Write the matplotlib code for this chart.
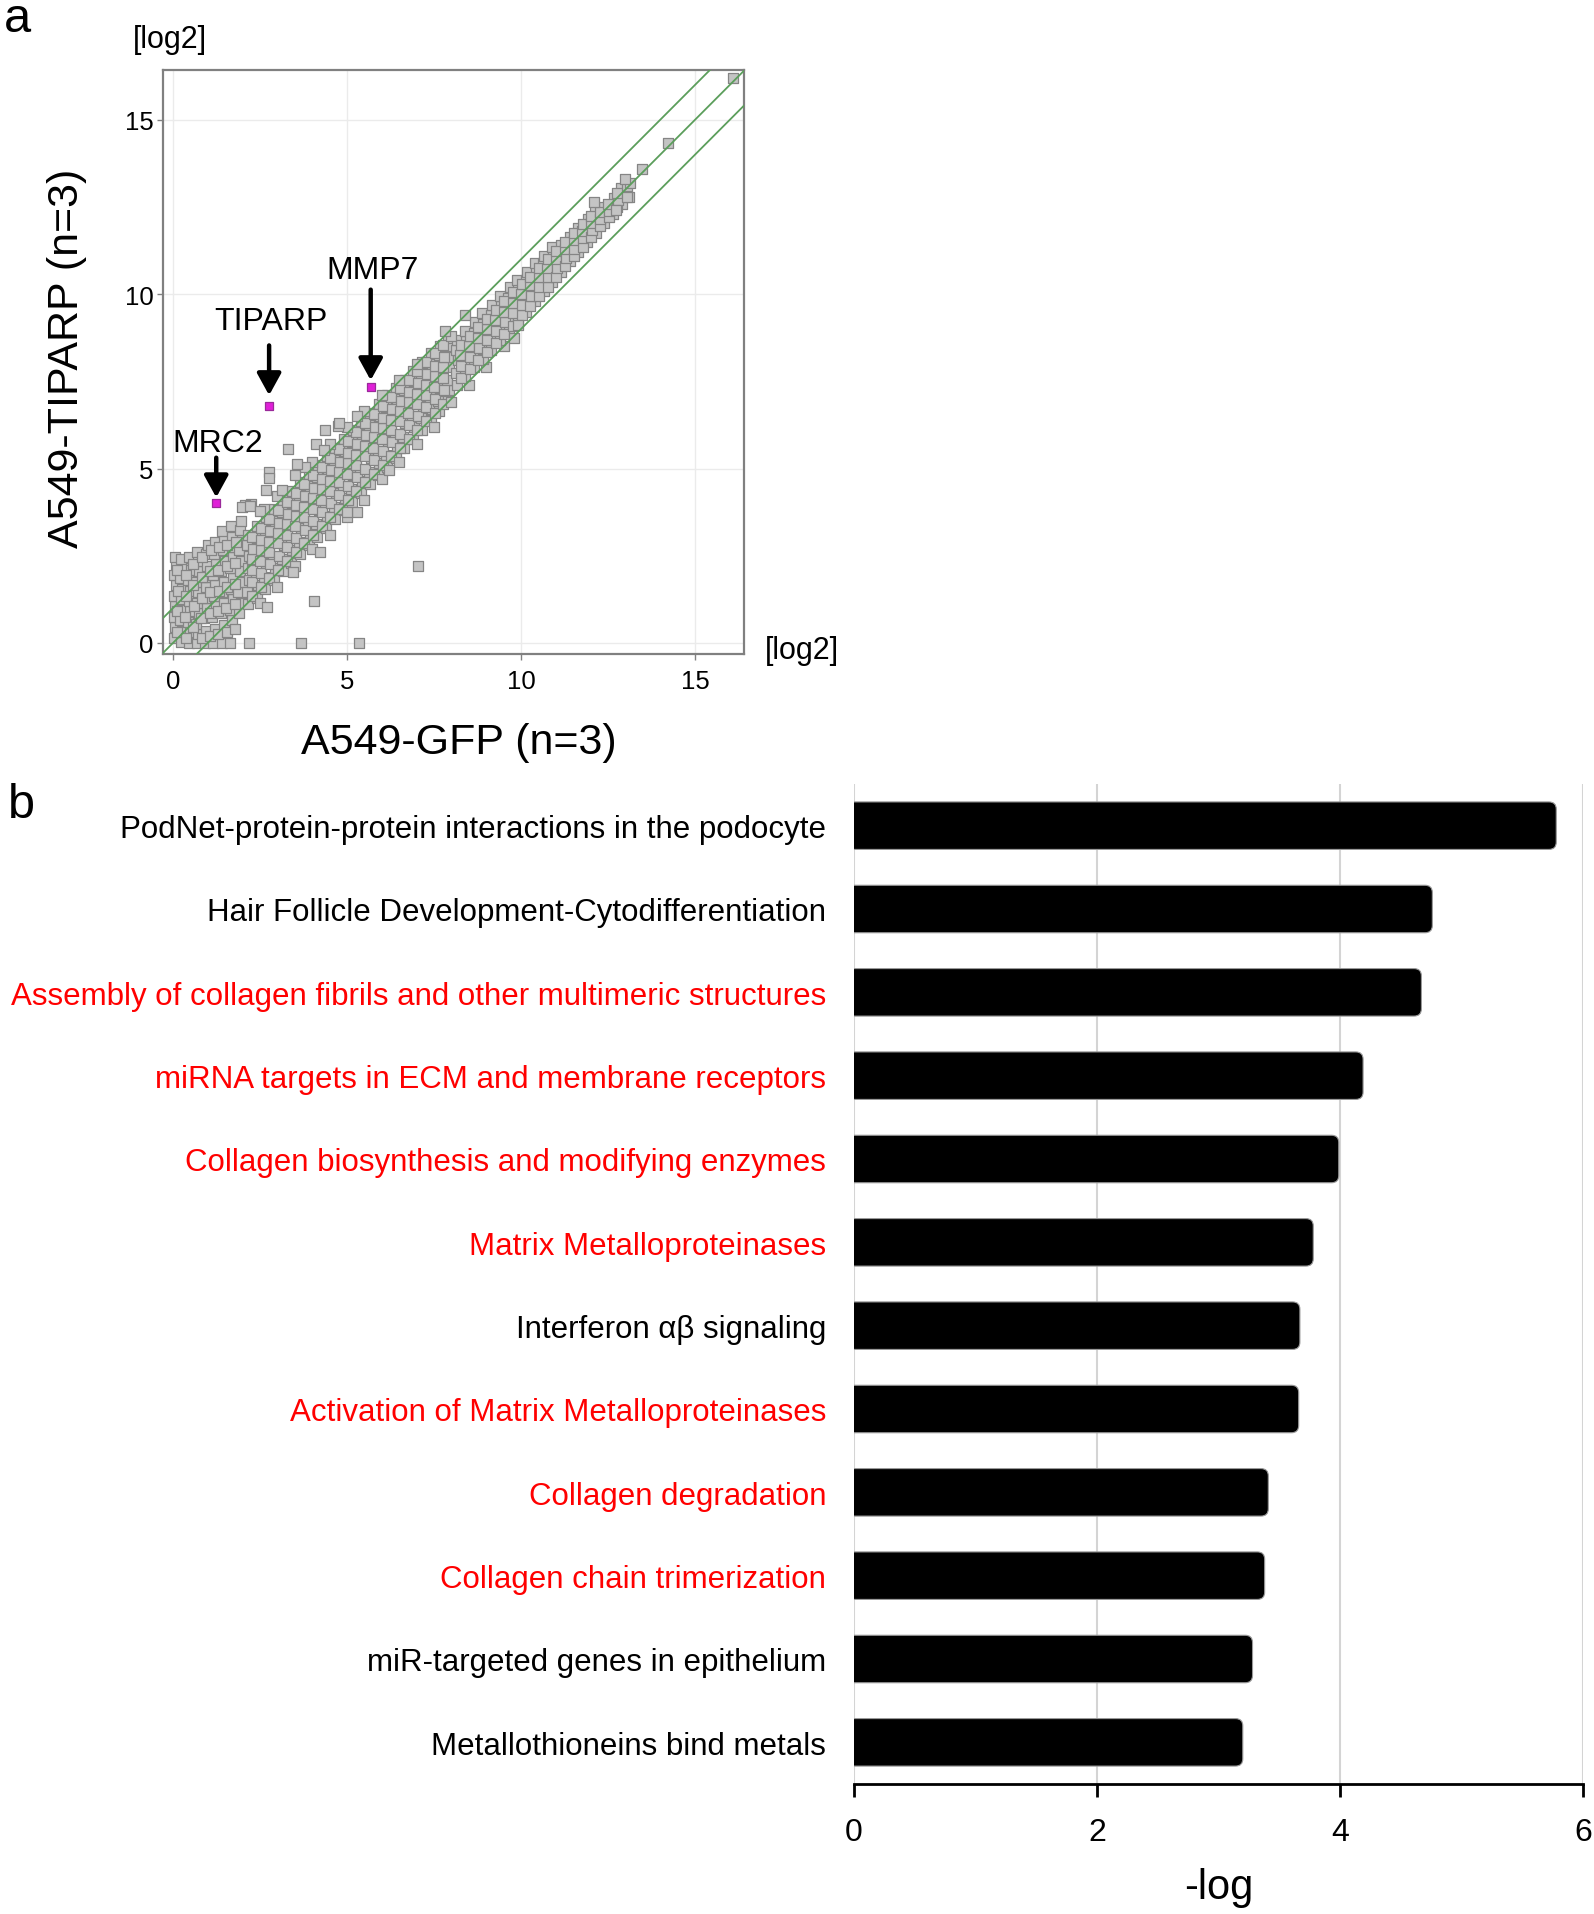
import matplotlib
matplotlib.use("Agg")
import matplotlib.pyplot as plt
from matplotlib.patches import FancyBboxPatch

plt.rcParams['font.family'] = ['Liberation Sans', 'DejaVu Sans']

# ---------------- Panel a data (log2 expression, GFP vs TIPARP) ----------------
low_expr_pts = [
    (0.02, 0.15), (0.05, 0.45), (0.03, 0.75), (0.06, 1.05), (0.04, 1.35), (0.07, 1.65), (0.03, 1.95), (0.08, 2.25), (0.05, 2.45),
    (0.22, 0.02), (0.25, 0.35), (0.20, 0.65), (0.27, 0.95), (0.23, 1.25), (0.26, 1.55), (0.21, 1.85), (0.28, 2.15), (0.24, 2.40),
    (0.45, 0.00), (0.48, 0.30), (0.43, 0.60), (0.50, 0.90), (0.46, 1.20), (0.49, 1.50), (0.44, 1.80), (0.51, 2.10), (0.47, 2.45),
    (0.68, 0.00), (0.72, 0.25), (0.66, 0.55), (0.74, 0.85), (0.70, 1.15), (0.73, 1.45), (0.67, 1.75), (0.75, 2.05), (0.71, 2.35), (0.69, 2.60),
    (0.92, 0.00), (0.95, 0.35), (0.90, 0.70), (0.97, 1.00), (0.93, 1.30), (0.96, 1.60), (0.91, 1.90), (0.98, 2.20), (0.94, 2.55), (1.00, 2.80),
    (1.15, 0.00), (1.20, 0.40), (1.13, 0.75), (1.22, 1.05), (1.17, 1.35), (1.21, 1.65), (1.14, 1.95), (1.23, 2.25), (1.18, 2.55), (1.20, 2.90),
    (1.40, 0.00), (1.45, 0.50), (1.38, 0.85), (1.47, 1.15), (1.42, 1.45), (1.46, 1.75), (1.39, 2.05), (1.48, 2.35), (1.43, 2.65), (1.45, 2.95), (1.41, 3.20),
    (1.65, 0.00), (1.70, 0.65), (1.63, 0.95), (1.72, 1.25), (1.67, 1.55), (1.71, 1.85), (1.64, 2.15), (1.73, 2.45), (1.68, 2.75), (1.70, 3.05), (1.66, 3.35),
    (1.90, 0.85), (1.95, 1.15), (1.88, 1.45), (1.97, 1.75), (1.92, 2.05), (1.96, 2.35), (1.89, 2.65), (1.98, 2.95), (1.93, 3.25), (1.95, 3.50),
    (0.12, 0.30), (0.12, 0.90), (0.13, 1.50), (0.11, 2.10),
    (0.36, 0.15), (0.35, 0.75), (0.37, 1.35), (0.36, 1.95),
    (0.58, 0.45), (0.59, 1.05), (0.57, 1.65), (0.58, 2.25),
    (0.82, 0.15), (0.81, 0.70), (0.83, 1.30), (0.82, 1.90), (0.84, 2.45),
    (1.06, 0.20), (1.05, 0.85), (1.07, 1.45), (1.06, 2.05), (1.08, 2.65),
    (1.30, 0.25), (1.29, 0.90), (1.31, 1.50), (1.30, 2.10), (1.32, 2.75),
    (1.54, 0.30), (1.53, 1.00), (1.55, 1.60), (1.54, 2.20), (1.56, 2.80),
    (1.78, 0.40), (1.77, 1.10), (1.79, 1.70), (1.78, 2.30), (1.80, 2.90),
]

mid_expr_pts = [
    (2.15, 1.10), (2.12, 1.45), (2.18, 1.80), (2.14, 2.15), (2.17, 2.50), (2.13, 2.80), (2.16, 3.10),
    (2.40, 1.30), (2.43, 1.65), (2.38, 2.00), (2.42, 2.35), (2.39, 2.70), (2.44, 3.00), (2.41, 3.35),
    (2.65, 1.55), (2.62, 1.90), (2.68, 2.30), (2.64, 2.60), (2.67, 2.95), (2.63, 3.25), (2.66, 3.60),
    (2.90, 1.80), (2.93, 2.15), (2.88, 2.50), (2.92, 2.85), (2.89, 3.20), (2.94, 3.50), (2.91, 3.85),
    (3.15, 2.05), (3.12, 2.40), (3.18, 2.80), (3.14, 3.10), (3.17, 3.45), (3.13, 3.75), (3.16, 4.10),
    (3.40, 2.30), (3.43, 2.65), (3.38, 3.00), (3.42, 3.40), (3.39, 3.70), (3.44, 4.00), (3.41, 4.35),
    (3.65, 2.55), (3.62, 2.90), (3.68, 3.30), (3.64, 3.60), (3.67, 3.95), (3.63, 4.25), (3.66, 4.60),
    (3.90, 2.80), (3.93, 3.15), (3.88, 3.50), (3.92, 3.90), (3.89, 4.20), (3.94, 4.50), (3.91, 4.85),
    (4.15, 3.05), (4.12, 3.40), (4.18, 3.80), (4.14, 4.10), (4.17, 4.45), (4.13, 4.75), (4.16, 5.10),
    (4.40, 3.30), (4.43, 3.65), (4.38, 4.00), (4.42, 4.35), (4.39, 4.70), (4.44, 5.00), (4.41, 5.35),
    (4.65, 3.55), (4.62, 3.90), (4.68, 4.30), (4.64, 4.60), (4.67, 4.95), (4.63, 5.25), (4.66, 5.60),
    (4.90, 3.80), (4.93, 4.15), (4.88, 4.50), (4.92, 4.85), (4.89, 5.20), (4.94, 5.50), (4.91, 5.85),
    (5.15, 4.05), (5.12, 4.40), (5.18, 4.80), (5.14, 5.10), (5.17, 5.45), (5.13, 5.75), (5.16, 6.10),
    (5.40, 4.30), (5.43, 4.65), (5.38, 5.00), (5.42, 5.40), (5.39, 5.70), (5.44, 6.00), (5.41, 6.35),
    (5.65, 4.55), (5.62, 4.90), (5.68, 5.30), (5.64, 5.60), (5.67, 5.95), (5.63, 6.25), (5.66, 6.60),
    (5.90, 4.80), (5.93, 5.15), (5.88, 5.50), (5.92, 5.85), (5.89, 6.20), (5.94, 6.50), (5.91, 6.85),
    (6.15, 5.05), (6.12, 5.40), (6.18, 5.80), (6.14, 6.10), (6.17, 6.45), (6.13, 6.75), (6.16, 7.10),
    (6.40, 5.30), (6.43, 5.65), (6.38, 6.00), (6.42, 6.40), (6.39, 6.70), (6.44, 7.00), (6.41, 7.30),
    (6.65, 5.60), (6.62, 5.90), (6.68, 6.30), (6.64, 6.60), (6.67, 6.95), (6.63, 7.25), (6.66, 7.55),
    (6.90, 5.85), (6.93, 6.20), (6.88, 6.50), (6.92, 6.85), (6.89, 7.20), (6.94, 7.50), (6.91, 7.80),
    (7.15, 6.10), (7.12, 6.45), (7.18, 6.80), (7.14, 7.10), (7.17, 7.45), (7.13, 7.75), (7.16, 8.05),
    (7.40, 6.40), (7.43, 6.70), (7.38, 7.05), (7.42, 7.40), (7.39, 7.70), (7.44, 8.00), (7.41, 8.30),
    (7.65, 6.65), (7.62, 6.95), (7.68, 7.30), (7.64, 7.60), (7.67, 7.95), (7.63, 8.25), (7.66, 8.50),
    (7.90, 6.95), (7.93, 7.25), (7.88, 7.55), (7.92, 7.90), (7.89, 8.20), (7.94, 8.50), (7.91, 8.75),
    (2.27, 1.35), (2.28, 1.75), (2.26, 2.10), (2.27, 2.40), (2.29, 2.70), (2.27, 3.05),
    (2.52, 1.60), (2.53, 2.00), (2.51, 2.35), (2.52, 2.65), (2.54, 2.95), (2.52, 3.30),
    (2.77, 1.85), (2.78, 2.25), (2.76, 2.60), (2.77, 2.90), (2.79, 3.20), (2.77, 3.55),
    (3.02, 2.10), (3.03, 2.50), (3.01, 2.85), (3.02, 3.15), (3.04, 3.45), (3.02, 3.80),
    (3.27, 2.35), (3.28, 2.75), (3.26, 3.10), (3.27, 3.40), (3.29, 3.70), (3.27, 4.05),
    (3.52, 2.60), (3.53, 3.00), (3.51, 3.35), (3.52, 3.65), (3.54, 3.95), (3.52, 4.30),
    (3.77, 2.85), (3.78, 3.25), (3.76, 3.60), (3.77, 3.90), (3.79, 4.20), (3.77, 4.55),
    (4.02, 3.10), (4.03, 3.50), (4.01, 3.85), (4.02, 4.15), (4.04, 4.45), (4.02, 4.80),
    (4.27, 3.35), (4.28, 3.75), (4.26, 4.10), (4.27, 4.40), (4.29, 4.70), (4.27, 5.05),
    (4.52, 3.60), (4.53, 4.00), (4.51, 4.35), (4.52, 4.65), (4.54, 4.95), (4.52, 5.30),
    (4.77, 3.85), (4.78, 4.25), (4.76, 4.60), (4.77, 4.90), (4.79, 5.20), (4.77, 5.55),
    (5.02, 4.10), (5.03, 4.50), (5.01, 4.85), (5.02, 5.15), (5.04, 5.45), (5.02, 5.80),
    (5.27, 4.35), (5.28, 4.75), (5.26, 5.10), (5.27, 5.40), (5.29, 5.70), (5.27, 6.05),
    (5.52, 4.60), (5.53, 5.00), (5.51, 5.35), (5.52, 5.65), (5.54, 5.95), (5.52, 6.30),
    (5.77, 4.85), (5.78, 5.25), (5.76, 5.60), (5.77, 5.90), (5.79, 6.20), (5.77, 6.55),
    (6.02, 5.10), (6.03, 5.50), (6.01, 5.85), (6.02, 6.15), (6.04, 6.45), (6.02, 6.80),
    (6.27, 5.35), (6.28, 5.75), (6.26, 6.10), (6.27, 6.40), (6.29, 6.70), (6.27, 7.05),
    (6.52, 5.60), (6.53, 6.00), (6.51, 6.35), (6.52, 6.65), (6.54, 6.95), (6.52, 7.30),
    (6.77, 5.85), (6.78, 6.25), (6.76, 6.60), (6.77, 6.90), (6.79, 7.20), (6.77, 7.55),
    (7.02, 6.10), (7.03, 6.50), (7.01, 6.85), (7.02, 7.15), (7.04, 7.45), (7.02, 7.80),
    (7.27, 6.35), (7.28, 6.75), (7.26, 7.10), (7.27, 7.40), (7.29, 7.70), (7.27, 8.05),
    (7.52, 6.60), (7.53, 7.00), (7.51, 7.35), (7.52, 7.65), (7.54, 7.95), (7.52, 8.30),
    (7.77, 6.85), (7.78, 7.25), (7.76, 7.60), (7.77, 7.90), (7.79, 8.20), (7.77, 8.55),
]

band_edge_pts = [
    (3.00, 4.20), (3.50, 4.80), (4.00, 5.20), (4.50, 5.70), (5.00, 6.20), (5.50, 6.65),
    (6.00, 7.10), (6.50, 7.55), (7.00, 8.00), (2.60, 3.85), (3.80, 5.05), (5.30, 6.50),
    (3.00, 1.60), (3.50, 2.20), (4.00, 2.70), (4.50, 3.10), (5.00, 3.60), (5.50, 4.10),
    (6.00, 4.70), (6.50, 5.20), (7.00, 5.70), (7.50, 6.20), (8.00, 6.90), (8.50, 7.40),
    (9.00, 7.90), (9.50, 8.50), (2.50, 1.15), (6.20, 4.95),
]

high_expr_pts = [
    (8.15, 7.40), (8.12, 7.75), (8.18, 8.10), (8.14, 8.40), (8.17, 8.70),
    (8.40, 7.65), (8.43, 8.00), (8.38, 8.35), (8.42, 8.65), (8.39, 8.95),
    (8.65, 7.90), (8.62, 8.25), (8.68, 8.60), (8.64, 8.90), (8.67, 9.20),
    (8.90, 8.15), (8.93, 8.50), (8.88, 8.85), (8.92, 9.15), (8.89, 9.45),
    (9.15, 8.40), (9.12, 8.75), (9.18, 9.10), (9.14, 9.40), (9.17, 9.70),
    (9.40, 8.70), (9.43, 9.00), (9.38, 9.35), (9.42, 9.65), (9.39, 9.95),
    (9.65, 8.95), (9.62, 9.30), (9.68, 9.60), (9.64, 9.90), (9.67, 10.20),
    (9.90, 9.25), (9.93, 9.55), (9.88, 9.85), (9.92, 10.15), (9.89, 10.40),
    (10.15, 9.50), (10.12, 9.80), (10.18, 10.10), (10.14, 10.40), (10.17, 10.65),
    (10.40, 9.80), (10.43, 10.10), (10.38, 10.35), (10.42, 10.65), (10.39, 10.90),
    (10.65, 10.10), (10.62, 10.35), (10.68, 10.60), (10.64, 10.90), (10.67, 11.10),
    (10.90, 10.35), (10.93, 10.60), (10.88, 10.90), (10.92, 11.15), (10.89, 11.35),
    (11.15, 10.65), (11.12, 10.90), (11.18, 11.15), (11.14, 11.40),
    (11.40, 10.95), (11.43, 11.20), (11.38, 11.40), (11.42, 11.65),
    (11.65, 11.20), (11.62, 11.45), (11.68, 11.65), (11.64, 11.90),
    (11.90, 11.50), (11.93, 11.75), (11.88, 11.95), (11.92, 12.15),
    (12.15, 11.75), (12.12, 12.00), (12.18, 12.20), (12.14, 12.40),
    (12.40, 12.05), (12.43, 12.30), (12.38, 12.50),
    (12.65, 12.30), (12.62, 12.55), (12.68, 12.75),
    (12.90, 12.60), (12.93, 12.85), (12.88, 13.05),
    (13.10, 12.80), (13.05, 13.10), (13.12, 13.20),
    (8.27, 7.60), (8.28, 7.95), (8.26, 8.25), (8.27, 8.55),
    (8.52, 7.85), (8.53, 8.20), (8.51, 8.50), (8.52, 8.80),
    (8.77, 8.10), (8.78, 8.45), (8.76, 8.75), (8.77, 9.05),
    (9.02, 8.35), (9.03, 8.70), (9.01, 9.00), (9.02, 9.30),
    (9.27, 8.60), (9.28, 8.95), (9.26, 9.25), (9.27, 9.55),
    (9.52, 8.85), (9.53, 9.20), (9.51, 9.50), (9.52, 9.80),
    (9.77, 9.10), (9.78, 9.45), (9.76, 9.75), (9.77, 10.05),
    (10.02, 9.40), (10.03, 9.70), (10.01, 10.00), (10.02, 10.30),
    (10.27, 9.65), (10.28, 9.95), (10.26, 10.25), (10.27, 10.50),
    (10.52, 9.95), (10.53, 10.20), (10.51, 10.50), (10.52, 10.75),
    (10.77, 10.20), (10.78, 10.50), (10.76, 10.75), (10.77, 11.00),
    (11.02, 10.50), (11.03, 10.75), (11.01, 11.00), (11.02, 11.25),
    (11.27, 10.80), (11.28, 11.05), (11.26, 11.30), (11.27, 11.50),
    (11.52, 11.10), (11.53, 11.30), (11.51, 11.55), (11.52, 11.75),
    (11.77, 11.35), (11.78, 11.60), (11.76, 11.80), (11.77, 12.00),
    (12.02, 11.65), (12.03, 11.85), (12.01, 12.05), (12.02, 12.25),
    (12.27, 11.95), (12.28, 12.15), (12.26, 12.35),
    (12.52, 12.20), (12.53, 12.40), (12.51, 12.60),
    (12.77, 12.50), (12.78, 12.70), (12.76, 12.90),
]

outlier_pts = [
    (3.29, 5.56), (2.77, 4.89), (2.77, 4.74), (2.67, 4.39), (3.13, 4.39), (2.23, 3.99), (2.08, 3.96),
    (1.98, 3.90), (2.20, 3.93), (2.50, 3.78), (3.56, 5.13), (4.10, 5.70), (4.74, 6.22),
    (4.76, 6.31), (4.34, 5.53), (4.37, 6.10), (8.00, 8.81), (7.81, 8.93), (8.40, 9.41),
    (9.92, 9.13), (9.80, 8.74), (12.74, 12.41), (12.10, 12.63), (12.98, 13.31), (13.47, 13.60),
    (14.22, 14.34), (16.08, 16.20), (13.05, 12.79),
    (7.04, 2.20), (4.05, 1.20), (3.45, 2.04), (4.22, 2.60), (2.70, 1.03), (5.30, 3.75), (5.00, 3.75),
    (2.17, 0.00), (3.67, 0.00), (5.35, 0.00),
]

highlight_genes = ["MRC2", "TIPARP", "MMP7"]
highlight_x = [1.24, 2.76, 5.68]
highlight_y = [4.00, 6.80, 7.33]

fold_offsets = [-1, 0, 1]          # log2 fold-change guide lines
scatter_ticks = [0, 5, 10, 15]

# ---------------- Panel b data (pathway enrichment) ----------------
pathways = [
    "PodNet-protein-protein interactions in the podocyte",
    "Hair Follicle Development-Cytodifferentiation",
    "Assembly of collagen fibrils and other multimeric structures",
    "miRNA targets in ECM and membrane receptors",
    "Collagen biosynthesis and modifying enzymes",
    "Matrix Metalloproteinases",
    "Interferon \u03b1\u03b2 signaling",
    "Activation of Matrix Metalloproteinases",
    "Collagen degradation",
    "Collagen chain trimerization",
    "miR-targeted genes in epithelium",
    "Metallothioneins bind metals",
]
neg_log_p = [5.78, 4.76, 4.67, 4.19, 3.99, 3.78, 3.67, 3.66, 3.41, 3.38, 3.28, 3.20]
ecm_related = [False, False, True, True, True, True, False, True, True, True, False, False]
bar_ticks = [0, 2, 4, 6]

# ---------------- Figure ----------------
W, H = 1594, 1915
fig = plt.figure(figsize=(W / 100, H / 100), dpi=100)

# ----- Panel a -----
ax = fig.add_axes([163 / W, 1 - 655 / H, (744 - 163) / W, (655 - 71) / H])
all_pts = low_expr_pts + mid_expr_pts + band_edge_pts + high_expr_pts + outlier_pts
gx = [p[0] for p in all_pts]
gy = [p[1] for p in all_pts]
ax.scatter(gx, gy, marker='s', s=52, facecolor='#c4c4c4', edgecolor='#858585',
           linewidth=0.9, zorder=2)
for off in fold_offsets:
    ax.axline((0, off), slope=1, color='#5b9e5b', lw=1.3, zorder=3)
ax.scatter(highlight_x, highlight_y, marker='s', s=38, facecolor='#e020d8',
           edgecolor='#9a2a9a', linewidth=0.9, zorder=4)

label_text_dy = [1.74, 2.44, 3.37]
arrow_tail_dy = [1.31, 1.73, 2.80]
arrow_tip_dy = [0.17, 0.30, 0.20]
for name, x, y, tdy, ady, pdy in zip(highlight_genes, highlight_x, highlight_y,
                                     label_text_dy, arrow_tail_dy, arrow_tip_dy):
    ax.annotate('', xy=(x, y + pdy), xytext=(x, y + ady),
                arrowprops=dict(arrowstyle='-|>,head_length=0.6,head_width=0.33',
                                lw=3.2, color='black', mutation_scale=22,
                                shrinkA=0, shrinkB=0), zorder=5)
    ax.text(x + 0.05, y + tdy, name, ha='center', va='center', fontsize=23,
            color='black', zorder=5)

ax.set_xlim(-0.29, 16.41)
ax.set_ylim(-0.32, 16.43)
ax.set_xticks(scatter_ticks)
ax.set_yticks(scatter_ticks)
ax.grid(True, color='#ebebeb', lw=1.0, zorder=0)
ax.set_axisbelow(True)
for sp in ax.spines.values():
    sp.set_color('#808080')
    sp.set_linewidth(1.6)
ax.tick_params(axis='both', length=4, width=1, color='#808080', labelsize=18.5,
               labelcolor='black')
ax.tick_params(axis='x', pad=7)
ax.tick_params(axis='y', pad=3)

fig.text(459 / W, 1 - 743 / H, "A549-GFP (n=3)", ha='center', va='center', fontsize=31)
fig.text(67 / W, 1 - 358 / H, "A549-TIPARP (n=3)", ha='center', va='center',
         fontsize=31, rotation=90)
fig.text(170 / W, 1 - 40 / H, "[log2]", ha='center', va='center', fontsize=22)
fig.text(802 / W, 1 - 651 / H, "[log2]", ha='center', va='center', fontsize=22)
fig.text(4 / W, 1 - 20 / H, "a", ha='left', va='center', fontsize=35)
fig.text(8 / W, 1 - 806 / H, "b", ha='left', va='center', fontsize=35)

# ----- Panel b -----
bx = fig.add_axes([854 / W, 1 - 1785 / H, (1583 - 854) / W, (1785 - 785) / H])
ypos = list(range(len(pathways)))
bars = bx.barh(ypos, neg_log_p, height=0.57, color='black', zorder=3)
# give each bar a rounded right end (left end hidden past the axis at 0)
r = 0.06
for b in bars:
    x0, y0, w, h = b.get_x(), b.get_y(), b.get_width(), b.get_height()
    rb = FancyBboxPatch((x0 - 2 * r, y0), w + 2 * r, h,
                        boxstyle=f"round,pad=0,rounding_size={r}",
                        mutation_aspect=1.46, facecolor='black',
                        edgecolor='#9a9a9a', linewidth=0.8, zorder=3)
    bx.add_patch(rb)
    b.set_visible(False)
bx.set_xlim(0, 6)
bx.set_ylim(len(pathways) - 0.5, -0.5)
bx.set_xticks(bar_ticks)
bx.set_yticks(ypos)
bx.set_yticklabels(pathways, fontsize=22.5)
for lbl, red in zip(bx.get_yticklabels(), ecm_related):
    lbl.set_color('#ff0000' if red else 'black')
bx.tick_params(axis='y', length=0, pad=20)
bx.tick_params(axis='x', length=9, width=2, color='black', labelsize=23, pad=15)
bx.xaxis.grid(True, color='#d4d4d4', lw=1.5, zorder=0)
bx.set_axisbelow(True)
for side in ['top', 'right', 'left']:
    bx.spines[side].set_visible(False)
bx.spines['bottom'].set_linewidth(2)
bx.spines['bottom'].set_color('black')
bx.spines['bottom'].set_zorder(4)
bx.set_xlabel("-log", fontsize=30, labelpad=14)

fig.savefig("out.png", dpi=100)
